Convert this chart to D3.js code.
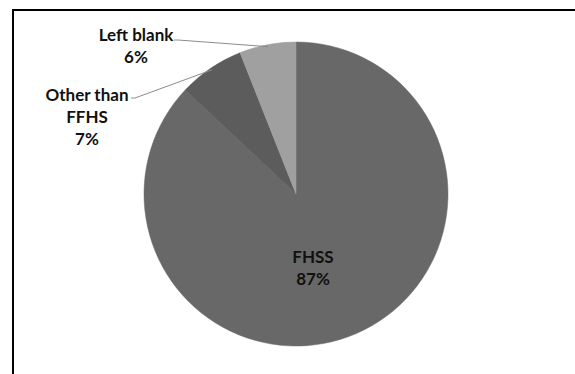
<!DOCTYPE html>
<html><head><meta charset="utf-8">
<script src="https://cdn.jsdelivr.net/npm/d3@7"></script>
<style>html,body{margin:0;padding:0;background:#fff;}svg{display:block;}</style>
</head><body>
<svg id="chart" width="575" height="374"></svg>
<script>
const categories = ["FHSS", "Other than FFHS", "Left blank"];
const values = [87, 7, 6];
const labelLines = [["FHSS", "87%"], ["Other than", "FFHS", "7%"], ["Left blank", "6%"]];
const colors = ["#686868", "#5c5c5c", "#a0a0a0"];

const svg = d3.select("#chart");
const W = 575, H = 374;
svg.append("rect").attr("width", W).attr("height", H).attr("fill", "#fff");
// frame (extends past right/bottom edges)
svg.append("rect").attr("x", 13).attr("y", 10).attr("width", 600).attr("height", 400)
  .attr("fill", "none").attr("stroke", "#000").attr("stroke-width", 2);

const cx = 296, cy = 194, r = 152;
const data = categories.map((c, i) => ({ c, v: values[i], lines: labelLines[i], color: colors[i] }));
const pie = d3.pie().sort(null).value(d => d.v);
const arcs = pie(data);
const arc = d3.arc().innerRadius(0).outerRadius(r);
const edge = d3.arc().innerRadius(r - 2).outerRadius(r - 2);

const g = svg.append("g").attr("transform", `translate(${cx},${cy})`);
g.selectAll("path").data(arcs).enter().append("path")
  .attr("d", arc).attr("fill", d => d.data.color)
  .attr("stroke", d => d.data.color).attr("stroke-width", 0.5);

// label placement (layout only)
const labelPos = [
  { x: 313, y: 257, anchor: null },
  { x: 87, y: 95, anchor: [131, 98] },
  { x: 136, y: 35, anchor: [174, 40] }
];
const lh = 22;
arcs.forEach((a, i) => {
  const p = labelPos[i];
  if (p.anchor) {
    const e = edge.centroid(a);
    svg.append("polyline")
      .attr("points", `${p.anchor[0]},${p.anchor[1]} ${p.anchor[0] + 4},${p.anchor[1]} ${cx + e[0]},${cy + e[1]}`)
      .attr("fill", "none").attr("stroke", "#8c8c8c").attr("stroke-width", 1);
  }
  const t = svg.append("text").attr("text-anchor", "middle")
    .attr("font-family", "Lato, 'Open Sans', sans-serif").attr("font-weight", "bold")
    .attr("font-size", 17).attr("fill", "#111");
  a.data.lines.forEach((ln, j) => {
    t.append("tspan").attr("x", p.x).attr("y", p.y + j * lh).attr("dy", "0.35em").text(ln);
  });
});
</script>
</body></html>
